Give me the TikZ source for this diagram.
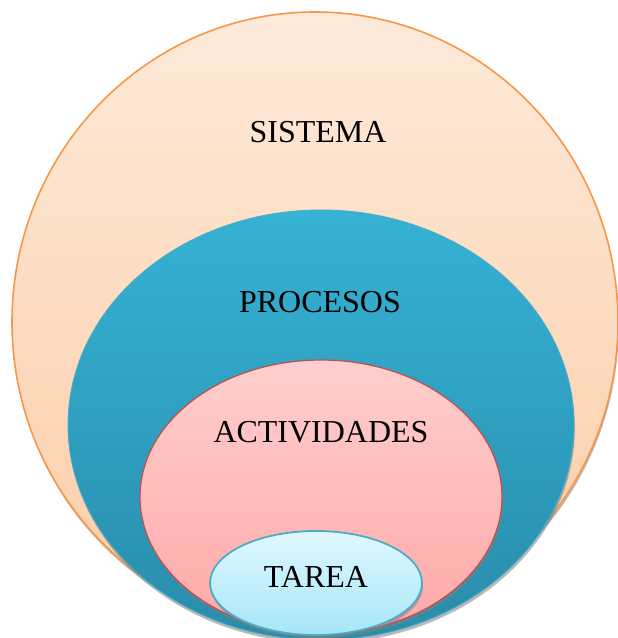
\documentclass[tikz,border=0pt]{standalone}
\usepackage{fontspec}
\setmainfont{Liberation Serif}
\usetikzlibrary{shapes.geometric,shadows}

\definecolor{sistemaArriba}{RGB}{253,234,218}
\definecolor{sistemaAbajo}{RGB}{252,205,166}
\definecolor{sistemaBorde}{RGB}{247,150,70}
\definecolor{procesosArriba}{RGB}{53,178,213}
\definecolor{procesosAbajo}{RGB}{41,140,170}
\definecolor{procesosBorde}{RGB}{75,172,198}
\definecolor{actividadesArriba}{RGB}{255,206,206}
\definecolor{actividadesAbajo}{RGB}{255,168,168}
\definecolor{actividadesBorde}{RGB}{192,80,77}
\definecolor{tareaArriba}{RGB}{224,248,255}
\definecolor{tareaAbajo}{RGB}{166,230,248}
\definecolor{tareaBorde}{RGB}{75,172,198}

\tikzset{
    capa/.style={ellipse, inner sep=0pt, line width=0.7pt,
        drop shadow={shadow xshift=0.5pt, shadow yshift=-1.8pt, opacity=0.55}},
    etiqueta/.style={inner sep=0pt, font=\fontsize{18.2}{20}\selectfont}
}

\begin{document}
\begin{tikzpicture}
    \useasboundingbox (0,0) rectangle (12.36,12.76);
    \clip (0,0) rectangle (12.36,12.76);

    % Capas
    \node[capa, draw=sistemaBorde, line width=0.9pt, top color=sistemaArriba, bottom color=sistemaAbajo,
        minimum width=12.12cm, minimum height=12.40cm] (sistema) at (6.30,6.32) {};
    \node[capa, draw=procesosBorde, line width=0.5pt, top color=procesosArriba, bottom color=procesosAbajo,
        minimum width=10.12cm, minimum height=8.60cm] (procesos) at (6.42,4.26) {};
    \node[capa, draw=actividadesBorde, top color=actividadesArriba, bottom color=actividadesAbajo,
        minimum width=7.24cm, minimum height=5.48cm] (actividades) at (6.42,2.82) {};
    \node[capa, draw=tareaBorde, line width=1pt, top color=tareaArriba, bottom color=tareaAbajo,
        minimum width=4.24cm, minimum height=2.08cm] (tarea) at (6.32,1.10) {};

    % Etiquetas
    \node[etiqueta] (tSistema) at (6.36,10.12) {SISTEMA};
    \node[etiqueta] (tProcesos) at (6.40,6.72) {PROCESOS};
    \node[etiqueta] (tActividades) at (6.42,4.12) {ACTIVIDADES};
    \node[etiqueta] (tTarea) at (6.32,1.22) {TAREA};
\end{tikzpicture}
\end{document}
